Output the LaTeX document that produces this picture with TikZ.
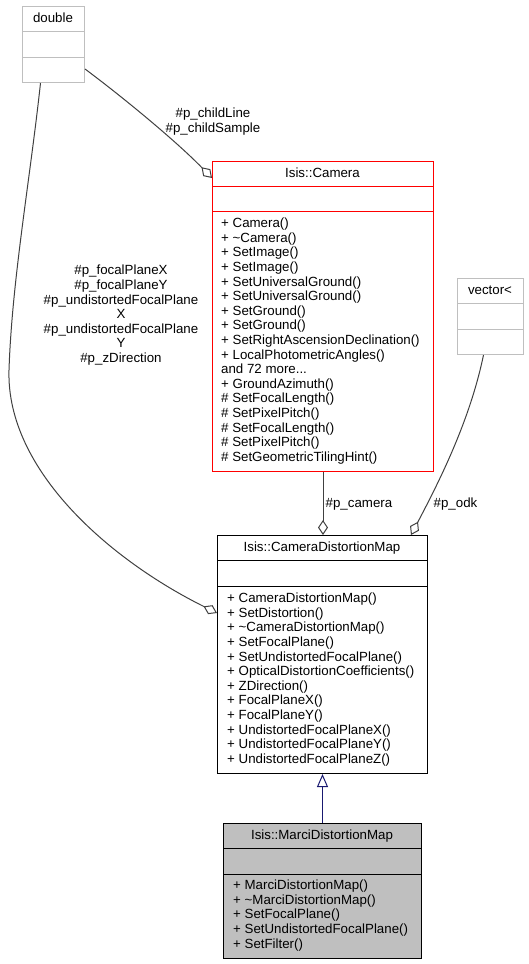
\documentclass[tikz,border=0pt]{standalone}
\usepackage{fontspec}
\setmainfont{Liberation Sans}
\usetikzlibrary{arrows.meta}
\definecolor{edgegray}{HTML}{404040}
\definecolor{boxgray}{HTML}{BFBFBF}
\definecolor{inhblue}{HTML}{191970}
\tikzset{
  cls/.style={draw, rectangle, inner sep=0pt, anchor=north west, line width=1pt},
  title/.style={anchor=base, inner sep=0pt},
  members/.style={anchor=north west, align=left, inner sep=0pt},
  lbl/.style={inner sep=0pt},
  edge/.style={draw=edgegray, line width=1pt, -{Diamond[open, length=15pt, width=10pt, line width=1pt]}},
  inherit/.style={draw=inhblue, line width=1pt, -{Triangle[open, length=13pt, width=11pt, line width=1pt]}},
}
\begin{document}
\begin{tikzpicture}[x=1pt, y=-1pt, font=\fontsize{13.3}{14.6}\selectfont]
\useasboundingbox (0,0) rectangle (529,964);

% double
\node[cls, draw=boxgray, minimum width=62pt, minimum height=76pt] (double) at (22,6) {};
\draw[boxgray, line width=1pt] ([yshift=-25pt]double.north west) -- ([yshift=-25pt]double.north east);
\draw[boxgray, line width=1pt] ([yshift=-51pt]double.north west) -- ([yshift=-51pt]double.north east);
\node[title] (doublet) at (53,22) {double};

% Isis::Camera
\node[cls, draw=red, minimum width=221pt, minimum height=310pt] (camera) at (212,161) {};
\draw[red, line width=1pt] ([yshift=-25pt]camera.north west) -- ([yshift=-25pt]camera.north east);
\draw[red, line width=1pt] ([yshift=-50pt]camera.north west) -- ([yshift=-50pt]camera.north east);
\node[title] (camerat) at (322.5,177.3) {Isis::Camera};
\node[members] (cameram) at (221,217.8) {+ Camera()\\+ \textasciitilde Camera()\\+ SetImage()\\+ SetImage()\\+ SetUniversalGround()\\+ SetUniversalGround()\\+ SetGround()\\+ SetGround()\\+ SetRightAscensionDeclination()\\+ LocalPhotometricAngles()\\and 72 more...\\+ GroundAzimuth()\\\# SetFocalLength()\\\# SetPixelPitch()\\\# SetFocalLength()\\\# SetPixelPitch()\\\# SetGeometricTilingHint()};

% vector<
\node[cls, draw=boxgray, minimum width=66pt, minimum height=76pt] (vector) at (457,278) {};
\draw[boxgray, line width=1pt] ([yshift=-25pt]vector.north west) -- ([yshift=-25pt]vector.north east);
\draw[boxgray, line width=1pt] ([yshift=-51pt]vector.north west) -- ([yshift=-51pt]vector.north east);
\node[title] (vectort) at (490,294) {vector<};

% Isis::CameraDistortionMap
\node[cls, minimum width=210pt, minimum height=238pt] (cdm) at (217,535) {};
\draw[line width=1pt] ([yshift=-25pt]cdm.north west) -- ([yshift=-25pt]cdm.north east);
\draw[line width=1pt] ([yshift=-51pt]cdm.north west) -- ([yshift=-51pt]cdm.north east);
\node[title] (cdmt) at (322,551) {Isis::CameraDistortionMap};
\node[members] (cdmm) at (227,592.8) {+ CameraDistortionMap()\\+ SetDistortion()\\+ \textasciitilde CameraDistortionMap()\\+ SetFocalPlane()\\+ SetUndistortedFocalPlane()\\+ OpticalDistortionCoefficients()\\+ ZDirection()\\+ FocalPlaneX()\\+ FocalPlaneY()\\+ UndistortedFocalPlaneX()\\+ UndistortedFocalPlaneY()\\+ UndistortedFocalPlaneZ()};

% Isis::MarciDistortionMap
\node[cls, fill=boxgray, minimum width=198pt, minimum height=135pt] (marci) at (223,823) {};
\draw[line width=1pt] ([yshift=-25pt]marci.north west) -- ([yshift=-25pt]marci.north east);
\draw[line width=1pt] ([yshift=-51pt]marci.north west) -- ([yshift=-51pt]marci.north east);
\node[title] (marcit) at (322,839) {Isis::MarciDistortionMap};
\node[members] (marcim) at (233,879.8) {+ MarciDistortionMap()\\+ \textasciitilde MarciDistortionMap()\\+ SetFocalPlane()\\+ SetUndistortedFocalPlane()\\+ SetFilter()};

% connectors
\draw[edge] ([yshift=14pt]double.south east) .. controls (120,95) and (175,140) .. ([yshift=-17pt]camera.north west);
\node[lbl, align=center, anchor=north] (lblchild) at (213,108) {\#p\_childLine\\\#p\_childSample};

\draw[edge] ([xshift=-13pt]double.south) .. controls (30,180) and (12,280) .. (9,370) .. controls (6,470) and (110,560) .. ([yshift=-78pt]cdm.north west);
\node[lbl, align=center, anchor=north] (lblfocal) at (121,265) {\#p\_focalPlaneX\\\#p\_focalPlaneY\\\#p\_undistortedFocalPlane\\X\\\#p\_undistortedFocalPlane\\Y\\\#p\_zDirection};

\draw[edge] (camera.south) -- (camera.south |- cdm.north);
\node[lbl, anchor=base west] (lblcam) at (325.5,507.5) {\#p\_camera};

\draw[edge] ([xshift=-7pt]vector.south) .. controls (470,420) and (440,480) .. ([xshift=-17pt]cdm.north east);
\node[lbl, anchor=base west] (lblodk) at (433.5,507.5) {\#p\_odk};

\draw[inherit] (marci.north) -- (cdm.south);
\end{tikzpicture}
\end{document}
